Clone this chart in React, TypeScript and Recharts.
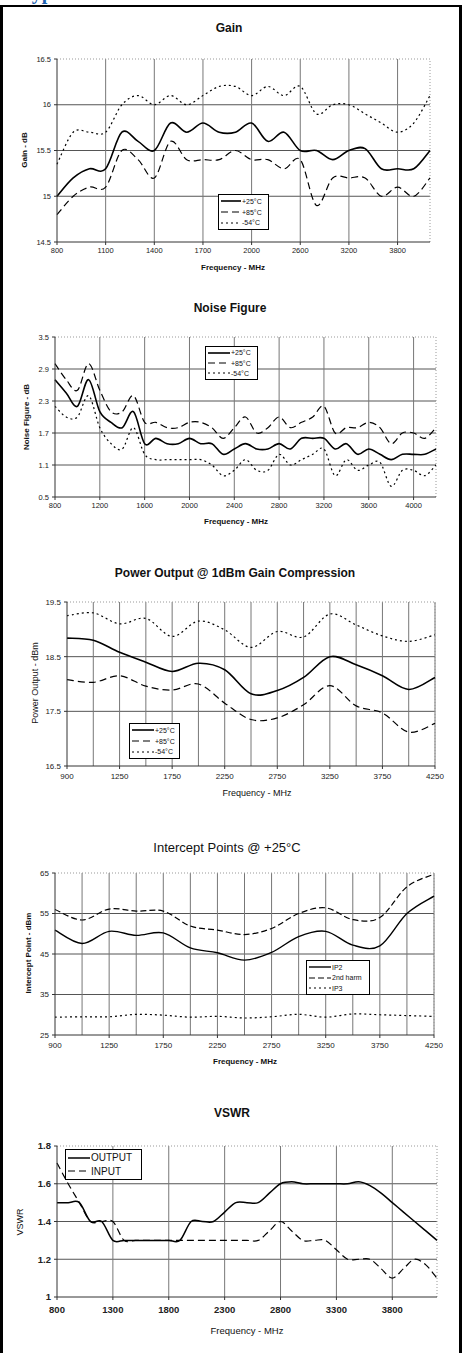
import React from 'react';
import { LineChart, Line, XAxis, YAxis, ReferenceLine } from 'recharts';

// ---- Gain ----
const GAIN_FREQ = [800, 900, 1000, 1100, 1200, 1300, 1400, 1500, 1600, 1700, 1800, 1900, 2000, 2200, 2400, 2600, 2800, 3000, 3200, 3400, 3600, 3800, 4000, 4200];
const GAIN_25 = [15.0, 15.2, 15.3, 15.3, 15.7, 15.6, 15.5, 15.8, 15.7, 15.8, 15.7, 15.7, 15.8, 15.6, 15.7, 15.5, 15.5, 15.4, 15.5, 15.52, 15.3, 15.3, 15.3, 15.5];
const GAIN_85 = [14.8, 15.0, 15.1, 15.1, 15.5, 15.4, 15.2, 15.6, 15.4, 15.4, 15.4, 15.5, 15.4, 15.4, 15.3, 15.4, 14.9, 15.2, 15.2, 15.2, 15.0, 15.1, 15.0, 15.2];
const GAIN_M54 = [15.35, 15.7, 15.7, 15.7, 16.0, 16.1, 16.0, 16.1, 16.0, 16.1, 16.2, 16.2, 16.1, 16.2, 16.1, 16.2, 15.9, 16.0, 16.0, 15.9, 15.8, 15.7, 15.8, 16.1];
const GAIN_XTICKS = [800, 1100, 1400, 1700, 2000, 2600, 3200, 3800];
const GAIN_YTICKS = [14.5, 15, 15.5, 16, 16.5];

// ---- Noise Figure ----
const NF_FREQ = [800, 900, 1000, 1100, 1200, 1300, 1400, 1500, 1600, 1700, 1800, 1900, 2000, 2100, 2200, 2300, 2400, 2500, 2600, 2700, 2800, 2900, 3000, 3100, 3200, 3300, 3400, 3500, 3600, 3700, 3800, 3900, 4000, 4100, 4200];
const NF_25 = [2.7, 2.45, 2.2, 2.7, 2.1, 1.9, 1.8, 2.1, 1.5, 1.6, 1.5, 1.5, 1.6, 1.5, 1.5, 1.3, 1.4, 1.5, 1.4, 1.4, 1.5, 1.4, 1.6, 1.6, 1.6, 1.4, 1.5, 1.3, 1.4, 1.3, 1.2, 1.3, 1.3, 1.3, 1.4];
const NF_85 = [3.0, 2.7, 2.5, 3.0, 2.5, 2.1, 2.1, 2.4, 1.9, 1.9, 1.8, 1.8, 1.9, 1.9, 1.8, 1.6, 1.8, 2.0, 1.7, 1.8, 2.0, 1.8, 1.9, 2.0, 2.2, 1.7, 1.8, 1.8, 1.9, 1.8, 1.5, 1.7, 1.7, 1.6, 1.8];
const NF_M54 = [2.2, 2.0, 2.0, 2.4, 1.8, 1.5, 1.4, 1.8, 1.3, 1.2, 1.2, 1.2, 1.2, 1.2, 1.1, 0.9, 1.0, 1.2, 1.0, 1.0, 1.3, 1.1, 1.2, 1.3, 1.4, 0.9, 1.2, 1.0, 1.1, 1.15, 0.7, 1.0, 1.0, 0.9, 1.1];
const NF_XTICKS = [800, 1200, 1600, 2000, 2400, 2800, 3200, 3600, 4000];
const NF_YTICKS = [0.5, 1.1, 1.7, 2.3, 2.9, 3.5];

// ---- Power output / intercept share the same frequency plan ----
const HI_FREQ = [900, 1000, 1250, 1500, 1750, 2000, 2250, 2500, 2750, 3000, 3250, 3500, 3750, 4000, 4250];
const HI_XTICKS = [900, 1250, 1750, 2250, 2750, 3250, 3750, 4250];

const P1_25 = [18.84, 18.8, 18.58, 18.4, 18.23, 18.38, 18.26, 17.82, 17.88, 18.12, 18.5, 18.35, 18.15, 17.9, 18.12];
const P1_85 = [18.08, 18.03, 18.15, 17.96, 17.89, 18.0, 17.65, 17.35, 17.38, 17.62, 17.97, 17.6, 17.47, 17.12, 17.28];
const P1_M54 = [19.25, 19.3, 19.1, 19.2, 18.87, 19.15, 18.99, 18.67, 18.96, 18.86, 19.28, 19.08, 18.88, 18.78, 18.9];
const P1_YTICKS = [16.5, 17.5, 18.5, 19.5];

const IP2 = [50.9, 47.6, 50.6, 49.6, 50.2, 46.5, 45.3, 43.5, 45.4, 49.3, 50.6, 47.2, 47.0, 55.0, 59.3];
const HARM2 = [56.0, 53.4, 56.1, 55.6, 55.6, 51.9, 50.9, 49.8, 51.3, 55.0, 56.4, 53.5, 54.0, 61.6, 64.7];
const IP3 = [29.4, 29.5, 29.5, 30.1, 29.9, 29.4, 29.6, 29.2, 29.5, 30.1, 29.4, 30.2, 30.0, 29.8, 29.6];
const IP_YTICKS = [25, 35, 45, 55, 65];

// ---- VSWR ----
const VSWR_FREQ = NF_FREQ;
const VSWR_OUT = [1.5, 1.5, 1.5, 1.4, 1.4, 1.3, 1.3, 1.3, 1.3, 1.3, 1.3, 1.3, 1.4, 1.4, 1.4, 1.45, 1.5, 1.5, 1.5, 1.55, 1.6, 1.61, 1.6, 1.6, 1.6, 1.6, 1.6, 1.61, 1.59, 1.55, 1.5, 1.45, 1.4, 1.35, 1.3];
const VSWR_IN = [1.71, 1.6, 1.5, 1.4, 1.4, 1.4, 1.3, 1.3, 1.3, 1.3, 1.3, 1.3, 1.3, 1.3, 1.3, 1.3, 1.3, 1.3, 1.3, 1.35, 1.4, 1.35, 1.3, 1.3, 1.3, 1.25, 1.2, 1.2, 1.2, 1.15, 1.1, 1.15, 1.2, 1.17, 1.1];
const VSWR_XTICKS = [800, 1300, 1800, 2300, 2800, 3300, 3800];
const VSWR_YTICKS = [1, 1.2, 1.4, 1.6, 1.8];

const FONT = '"Liberation Sans", Arial, sans-serif';
const SOLID = '';
const DASH = '7 4';
const DOT = '2 3';

// Excel-style smoothed line: cubic bezier through every point (Catmull-Rom, tension 1/6)
function excelSmooth(context: any) {
  let pts: [number, number][] = [];
  return {
    areaStart() {},
    areaEnd() {},
    lineStart() { pts = []; },
    point(x: number, y: number) { pts.push([+x, +y]); },
    lineEnd() {
      if (!pts.length) return;
      context.moveTo(pts[0][0], pts[0][1]);
      for (let i = 0; i < pts.length - 1; i++) {
        const p0 = pts[i - 1] || pts[i];
        const p1 = pts[i];
        const p2 = pts[i + 1];
        const p3 = pts[i + 2] || p2;
        context.bezierCurveTo(
          p1[0] + (p2[0] - p0[0]) / 6, p1[1] + (p2[1] - p0[1]) / 6,
          p2[0] - (p3[0] - p1[0]) / 6, p2[1] - (p3[1] - p1[1]) / 6,
          p2[0], p2[1],
        );
      }
    },
  };
}

type Series = { key: string; values: number[]; dash: string; width: number; label: string };

type PanelProps = {
  freq: number[];
  series: Series[];
  xTicks: number[];
  gridX: number[];
  yTicks: number[];
  plot: { x1: number; x2: number; y1: number; y2: number };
  tickFont: number;
  tickBold?: boolean;
  tickMargin?: number;
};

function Panel({ freq, series, xTicks, gridX, yTicks, plot, tickFont, tickBold, tickMargin = 3 }: PanelProps) {
  const data = freq.map((f, i) => {
    const row: Record<string, number> = { f };
    series.forEach(s => { row[s.key] = s.values[i]; });
    return row;
  });
  const yAxisW = 50;
  const top = plot.y1 - 10;
  const axisH = 30;
  const height = plot.y2 - top + axisH;
  const tick = { fontSize: tickFont, fill: '#222', fontFamily: FONT, fontWeight: tickBold ? 'bold' : 'normal' };
  const lastF = freq[freq.length - 1];
  const ymax = yTicks[yTicks.length - 1];
  return (
    <div style={{ position: 'absolute', left: 0, top, width: 464, height }}>
      <LineChart
        width={464}
        height={height}
        data={data}
        margin={{ top: 10, right: 464 - plot.x2, bottom: 0, left: plot.x1 - yAxisW }}
      >
        <XAxis
          dataKey="f"
          type="category"
          ticks={xTicks}
          interval={0}
          height={axisH}
          tick={tick}
          tickSize={3}
          tickMargin={tickMargin}
          stroke="#333"
        />
        <YAxis
          type="number"
          domain={[yTicks[0], ymax]}
          ticks={yTicks}
          interval={0}
          width={yAxisW}
          tick={tick}
          tickSize={3}
          tickMargin={3}
          stroke="#333"
        />
        {yTicks.slice(1, -1).map(v => (
          <ReferenceLine key={'h' + v} y={v} stroke="#555" strokeWidth={1} />
        ))}
        {gridX.map(v => (
          <ReferenceLine key={'v' + v} x={v} stroke="#777" strokeWidth={1} />
        ))}
        <ReferenceLine y={ymax} stroke="#999" strokeDasharray="1 2" />
        <ReferenceLine x={lastF} stroke="#999" strokeDasharray="1 2" />
        {series.map(s => (
          <Line
            key={s.key}
            dataKey={s.key}
            type={excelSmooth as any}
            stroke="#000"
            strokeWidth={s.width}
            strokeDasharray={s.dash || undefined}
            dot={false}
            isAnimationActive={false}
          />
        ))}
      </LineChart>
    </div>
  );
}

function LegendBox({ left, top, width, height, items, fontSize, sample }: {
  left: number; top: number; width: number; height: number; items: Series[]; fontSize: number; sample: number;
}) {
  return (
    <div
      style={{
        position: 'absolute', left, top, width, height, boxSizing: 'border-box',
        border: '1px solid #000', background: '#fff', display: 'flex', flexDirection: 'column',
        justifyContent: 'space-evenly', paddingLeft: 2, fontFamily: FONT, fontSize, color: '#111',
      }}
    >
      {items.map(s => (
        <div key={s.key} style={{ display: 'flex', alignItems: 'center', height: fontSize + 2 }}>
          <svg width={sample} height={6} style={{ flexShrink: 0 }}>
            <line x1={0} y1={3} x2={sample} y2={3} stroke="#000" strokeWidth={s.width} strokeDasharray={s.dash || undefined} />
          </svg>
          <span style={{ marginLeft: 1, whiteSpace: 'nowrap' }}>{s.label}</span>
        </div>
      ))}
    </div>
  );
}

function Text({ x, y, children, size, bold, rotate }: { x: number; y: number; children: React.ReactNode; size: number; bold?: boolean; rotate?: boolean }) {
  return (
    <div
      style={{
        position: 'absolute', left: x, top: y, fontFamily: FONT, fontSize: size,
        fontWeight: bold ? 'bold' : 'normal', color: '#111', whiteSpace: 'nowrap',
        transform: `translate(-50%, -50%)${rotate ? ' rotate(-90deg)' : ''}`, lineHeight: 1,
      }}
    >
      {children}
    </div>
  );
}

export default function App() {
  const tempSeries = (a: number[], b: number[], c: number[], w = 1.6): Series[] => [
    { key: 't25', values: a, dash: SOLID, width: w, label: '+25°C' },
    { key: 't85', values: b, dash: DASH, width: 1.2, label: '+85°C' },
    { key: 'tm54', values: c, dash: DOT, width: 1.2, label: '-54°C' },
  ];
  const gain = tempSeries(GAIN_25, GAIN_85, GAIN_M54);
  const nf = tempSeries(NF_25, NF_85, NF_M54);
  const p1 = tempSeries(P1_25, P1_85, P1_M54);
  const ip: Series[] = [
    { key: 'ip2', values: IP2, dash: SOLID, width: 1.4, label: 'IP2' },
    { key: 'h2', values: HARM2, dash: '6 3', width: 1.2, label: '2nd harm' },
    { key: 'ip3', values: IP3, dash: DOT, width: 1.2, label: 'IP3' },
  ];
  const vswr: Series[] = [
    { key: 'out', values: VSWR_OUT, dash: SOLID, width: 1.5, label: 'OUTPUT' },
    { key: 'in', values: VSWR_IN, dash: '7 4', width: 1.2, label: 'INPUT' },
  ];

  return (
    <div style={{ position: 'absolute', left: 0, top: 0, width: 464, height: 1353, background: '#fff', overflow: 'hidden' }}>
      <svg style={{ position: 'absolute', left: 0, top: 0 }} width={464} height={10}>
        <text x={20} y={-1} fontFamily='"Liberation Serif", serif' fontWeight="bold" fontSize={20} fill="#1f62b0">Typical Performance Curves</text>
      </svg>
      <div
        style={{
          position: 'absolute', left: 0, top: 5, width: 462, height: 1360, boxSizing: 'border-box',
          borderLeft: '3px solid #000', borderTop: '2px solid #000', borderRight: '3px solid #000',
        }}
      />

      {/* Gain */}
      <Text x={229} y={28} size={12} bold>Gain</Text>
      <Panel freq={GAIN_FREQ} series={gain} xTicks={GAIN_XTICKS} gridX={GAIN_XTICKS.slice(1)} yTicks={GAIN_YTICKS}
        plot={{ x1: 57, x2: 430, y1: 59, y2: 242 }} tickFont={7.5} />
      <Text x={25} y={150} size={8} bold rotate>Gain - dB</Text>
      <Text x={233} y={268} size={8} bold>Frequency - MHz</Text>
      <LegendBox left={218} top={194} width={51} height={36} items={gain} fontSize={7} sample={20} />

      {/* Noise Figure */}
      <Text x={230} y={308} size={12} bold>Noise Figure</Text>
      <Panel freq={NF_FREQ} series={nf} xTicks={NF_XTICKS} gridX={NF_XTICKS.slice(1)} yTicks={NF_YTICKS}
        plot={{ x1: 55, x2: 436, y1: 337, y2: 497 }} tickFont={7.5} />
      <Text x={27} y={417} size={8} bold rotate>Noise Figure - dB</Text>
      <Text x={236} y={522} size={8} bold>Frequency - MHz</Text>
      <LegendBox left={205} top={346} width={53} height={34} items={nf} fontSize={7} sample={22} />

      {/* Power Output */}
      <Text x={235} y={573} size={12} bold>Power Output @ 1dBm Gain Compression</Text>
      <Panel freq={HI_FREQ} series={p1} xTicks={HI_XTICKS} gridX={HI_FREQ.slice(1)} yTicks={P1_YTICKS}
        plot={{ x1: 67, x2: 435, y1: 602, y2: 766 }} tickFont={8} tickMargin={4} />
      <Text x={35} y={683} size={9} rotate>Power Output - dBm</Text>
      <Text x={257} y={793} size={9}>Frequency - MHz</Text>
      <LegendBox left={129} top={723} width={51} height={36} items={p1} fontSize={7} sample={22} />

      {/* Intercept Points */}
      <Text x={227} y={847} size={13}>Intercept Points @ +25°C</Text>
      <Panel freq={HI_FREQ} series={ip} xTicks={HI_XTICKS} gridX={HI_FREQ.slice(1)} yTicks={IP_YTICKS}
        plot={{ x1: 55, x2: 434, y1: 873, y2: 1035 }} tickFont={8} tickMargin={4} />
      <Text x={29} y={953} size={8} bold rotate>Intercept Point - dBm</Text>
      <Text x={245} y={1062} size={8} bold>Frequency - MHz</Text>
      <LegendBox left={306} top={960} width={64} height={35} items={ip} fontSize={7} sample={22} />

      {/* VSWR */}
      <Text x={232} y={1113} size={12} bold>VSWR</Text>
      <Panel freq={VSWR_FREQ} series={vswr} xTicks={VSWR_XTICKS} gridX={VSWR_XTICKS.slice(1)} yTicks={VSWR_YTICKS}
        plot={{ x1: 57, x2: 437, y1: 1146, y2: 1297 }} tickFont={9.5} tickBold tickMargin={6} />
      <Text x={20} y={1222} size={9} rotate>VSWR</Text>
      <Text x={247} y={1331} size={9.5}>Frequency - MHz</Text>
      <LegendBox left={65} top={1149} width={77} height={31} items={vswr} fontSize={10} sample={22} />
    </div>
  );
}
